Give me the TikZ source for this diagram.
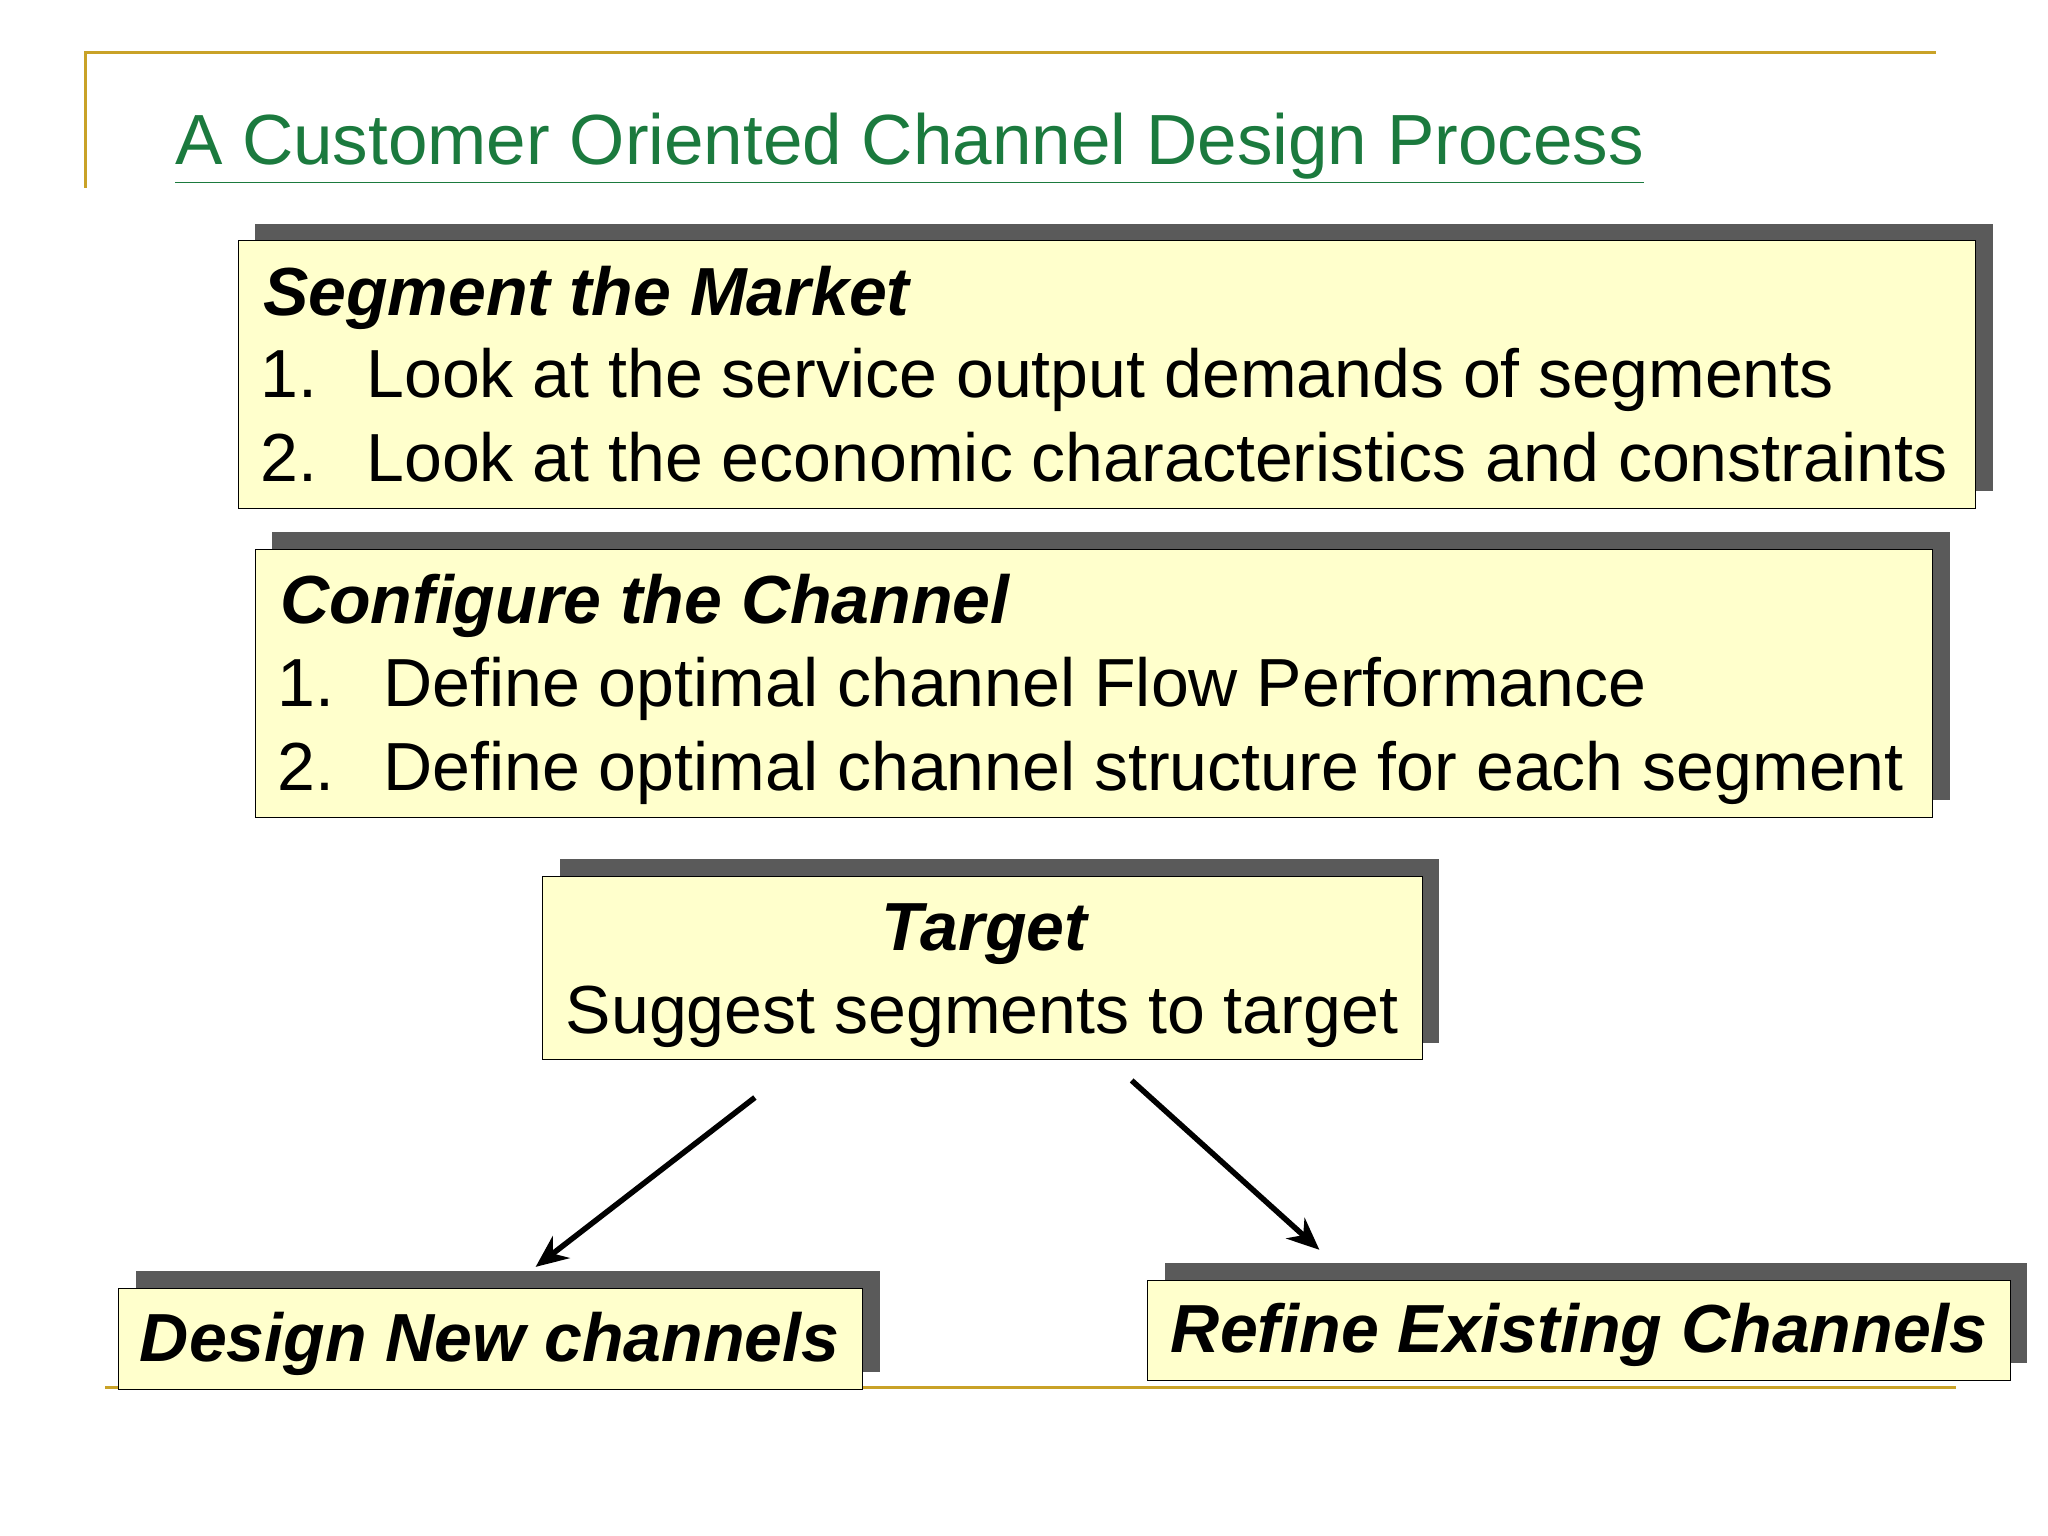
\documentclass[tikz,border=0pt]{standalone}
\usepackage{fontspec}
\setmainfont{Liberation Sans}
\usetikzlibrary{shadows,arrows.meta}
\definecolor{gold}{HTML}{C9A227}
\definecolor{titlegreen}{HTML}{1B7A3E}
\definecolor{boxfill}{HTML}{FFFFCC}
\definecolor{shadowgray}{HTML}{5A5A5A}
\tikzset{
  box/.style={draw=black, fill=boxfill, rectangle, anchor=north west, inner sep=0pt,
    drop shadow={shadow xshift=0.26cm, shadow yshift=0.26cm, fill=shadowgray, opacity=1}},
  head/.style={font=\fontsize{29.5}{34}\selectfont\bfseries\itshape, inner sep=0pt},
  item/.style={font=\fontsize{29.5}{34}\selectfont, inner sep=0pt, anchor=base west},
  arr/.style={line width=2.4pt, -{Stealth[length=14pt,width=12pt]}}
}
\begin{document}
\begin{tikzpicture}[x=0.02cm,y=-0.02cm]
	\useasboundingbox[fill=white] (0,0) rectangle (1560,1170);
	% frame lines
	\draw[gold, line width=1.5pt] (65,143) -- (65,40) -- (1475,40);
	\draw[gold, line width=1.5pt] (80,1057) -- (1490,1057);
	\node[anchor=base west, inner sep=0pt, text=titlegreen, font=\fontsize{30.8}{36}\selectfont] (title) at (133,125) {\underline{A Customer Oriented Channel Design Process}};
	% boxes
	\node[box, minimum width=26.48cm, minimum height=4.08cm] (seg) at (181,183) {};
	\node[box, minimum width=25.56cm, minimum height=4.08cm] (conf) at (194,418) {};
	\node[box, minimum width=13.4cm, minimum height=2.8cm] (targ) at (413,667) {};
	\node[box, minimum width=11.34cm, minimum height=1.54cm] (newch) at (90,981) {};
	\node[box, minimum width=13.14cm, minimum height=1.52cm] (refch) at (874,975) {};
	% texts
	\node[head, anchor=base west] (segh) at (200,240) {Segment the Market};
	\node[item] (seg1) at (198,303) {1.\hspace{0.75cm}Look at the service output demands of segments};
	\node[item] (seg2) at (198,367) {2.\hspace{0.75cm}Look at the economic characteristics and constraints};
	\node[head, anchor=base west] (confh) at (213,475) {Configure the Channel};
	\node[item] (conf1) at (211,538) {1.\hspace{0.75cm}Define optimal channel Flow Performance};
	\node[item] (conf2) at (211,602) {2.\hspace{0.75cm}Define optimal channel structure for each segment};
	\node[head, anchor=base] (targh) at (750,724) {Target};
	\node[item, anchor=base] (targ1) at (748,787) {Suggest segments to target};
	\node[head, anchor=base] (newt) at (373,1037) {Design New channels};
	\node[head, anchor=base] (reft) at (1203,1030) {Refine Existing Channels};
	% arrows
	\coordinate (la) at (575,836);
	\coordinate (ra) at (862,823);
	\coordinate (lb) at (408,965);
	\coordinate (rb) at (1005,952);
	\draw[arr] (la) -- (lb);
	\draw[arr] (ra) -- (rb);
\end{tikzpicture}
\end{document}
